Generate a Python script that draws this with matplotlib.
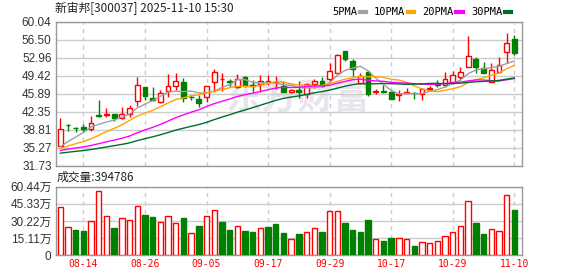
"""K-line chart of 新宙邦 (300037) with moving averages and volume."""

import matplotlib

matplotlib.use("Agg")
import matplotlib.pyplot as plt
from matplotlib.lines import Line2D
import numpy as np
import pandas as pd

stock_name = "新宙邦"
stock_code = "300037"
quote_time = "2025-11-10 15:30"

dates = [
    "08-11", "08-12", "08-13", "08-14", "08-15", "08-18", "08-19", "08-20", "08-21", "08-22",
    "08-25", "08-26", "08-27", "08-28", "08-29", "09-01", "09-02", "09-03", "09-04", "09-05",
    "09-08", "09-09", "09-10", "09-11", "09-12", "09-15", "09-16", "09-17", "09-18", "09-19",
    "09-22", "09-23", "09-24", "09-25", "09-26", "09-29", "09-30", "10-09", "10-10", "10-13",
    "10-14", "10-15", "10-16", "10-17", "10-20", "10-21", "10-22", "10-23", "10-24", "10-27",
    "10-28", "10-29", "10-30", "10-31", "11-03", "11-04", "11-05", "11-06", "11-07", "11-10",
]
opens = [
    35.67, 39.75, 39.22, 39.34, 39.01, 41.70, 41.75, 41.83, 41.11, 41.90,
    44.52, 47.20, 45.04, 44.32, 46.35, 47.46, 48.18, 45.30, 44.85, 45.17,
    48.12, 48.70, 48.38, 47.27, 49.17, 47.60, 47.73, 48.20, 48.10, 47.40,
    46.15, 46.68, 45.83, 47.73, 48.32, 48.84, 50.02, 54.28, 52.31, 48.05,
    50.22, 46.30, 46.40, 46.22, 45.70, 46.10, 46.00, 45.83, 46.80, 47.70,
    47.60, 48.25, 49.23, 51.20, 52.70, 50.87, 48.25, 50.08, 54.15, 56.63,
]
highs = [
    41.04, 39.93, 39.34, 39.93, 41.44, 44.65, 43.00, 41.90, 43.27, 43.66,
    49.23, 47.30, 47.27, 46.61, 49.82, 49.89, 48.90, 45.63, 45.60, 47.40,
    50.74, 49.89, 48.71, 49.76, 49.40, 48.58, 49.50, 49.56, 49.36, 48.38,
    46.80, 48.38, 48.05, 48.71, 49.23, 51.85, 53.69, 54.30, 52.64, 49.89,
    50.30, 46.81, 47.53, 46.40, 46.61, 47.07, 46.15, 46.94, 47.40, 48.58,
    50.22, 50.35, 51.13, 57.22, 53.10, 52.05, 51.85, 53.03, 57.88, 57.49,
]
lows = [
    35.60, 38.56, 38.29, 38.43, 38.56, 41.37, 41.24, 40.50, 41.00, 41.37,
    43.47, 44.65, 44.52, 43.99, 45.30, 46.61, 44.32, 44.65, 43.20, 44.32,
    46.28, 46.42, 47.46, 46.94, 47.25, 46.28, 46.28, 47.53, 46.74, 46.20,
    45.96, 44.97, 45.10, 46.94, 47.27, 48.25, 49.89, 52.38, 49.36, 47.79,
    45.43, 45.83, 46.09, 44.78, 44.52, 45.96, 44.91, 44.65, 46.42, 47.14,
    47.27, 47.79, 48.58, 51.10, 49.89, 49.89, 48.20, 50.00, 51.85, 53.56,
]
closes = [
    38.88, 39.67, 39.15, 38.95, 40.06, 41.57, 41.85, 41.11, 41.83, 43.14,
    47.53, 45.50, 44.65, 46.02, 47.33, 48.38, 45.10, 45.20, 44.12, 47.33,
    50.08, 48.80, 48.12, 48.84, 47.46, 47.40, 48.32, 48.30, 48.20, 46.28,
    46.61, 46.28, 47.73, 48.45, 47.46, 50.28, 53.49, 52.64, 50.67, 49.30,
    45.83, 46.40, 46.30, 44.91, 45.85, 46.20, 45.95, 46.74, 46.95, 47.60,
    48.71, 49.50, 50.08, 53.23, 51.20, 50.02, 50.48, 51.46, 55.78, 53.82,
]
# volume in lots (手)
volumes = [
    422500, 246000, 223000, 214000, 299000, 563000, 343000, 241000, 326000, 308000,
    431000, 355000, 337000, 290000, 343000, 282000, 329000, 194000, 258000, 343000,
    396000, 293000, 223000, 255000, 217000, 205000, 238000, 249000, 276000, 197000,
    144000, 188000, 205000, 238000, 205000, 390000, 390000, 285000, 223000, 205000,
    311000, 144000, 126000, 153000, 153000, 144000, 82000, 114000, 106000, 126000,
    170000, 205000, 255000, 478000, 285000, 188000, 232000, 214000, 531000, 394786,
]

ma_periods = [5, 10, 20, 30]
# MA values before a full window exists in this range
ma_head = {
    5: [35.46, 36.47, 37.38, 38.25],
    10: [35.10, 35.60, 36.05, 36.48, 37.02, 37.71, 38.43, 39.07, 39.78],
    20: [34.72, 34.98, 35.21, 35.43, 35.71, 36.06, 36.43, 36.76, 37.13, 37.56,
         38.21, 38.76, 39.27, 39.85, 40.49, 41.18, 41.71, 42.25, 42.73],
    30: [34.19, 34.38, 34.55, 34.71, 34.91, 35.16, 35.42, 35.66, 35.92, 36.22,
         36.67, 37.05, 37.41, 37.81, 38.25, 38.73, 39.10, 39.47, 39.81, 40.25,
         40.79, 41.28, 41.75, 42.24, 42.69, 43.14, 43.62, 44.10, 44.57],
}
ma_colors = ["#a0a0a0", "#ffa500", "#ff00ff", "#006b2d"]

price_ticks = [31.73, 35.27, 38.81, 42.35, 45.89, 49.42, 52.96, 56.50, 60.04]
volume_ticks = [0, 15.11, 30.22, 45.33, 60.44]  # 万手
date_tick_idx = [3, 11, 19, 27, 35, 43, 51, 59]

UP = "#ff0000"
DOWN = "#008000"
GRID = "#cccccc"
FRAME = "#999999"

plt.rcParams["font.family"] = ["Liberation Sans", "Noto Sans CJK SC"]


def style_panel(ax):
    ax.set_xlim(-0.6, len(closes) + 0.04)
    for spine in ax.spines.values():
        spine.set_color(FRAME)
        spine.set_linewidth(1)
    ax.tick_params(length=0, labelsize=8.5, labelcolor="#333333", pad=3)
    ax.yaxis.grid(True, color=GRID, linewidth=1)
    for i in date_tick_idx:
        ax.axvline(i, color=GRID, linewidth=1, linestyle=(0, (3, 3)), zorder=0)
    ax.set_axisbelow(True)


fig = plt.figure(figsize=(5.78, 2.76), dpi=100)
W, H = 578, 276
ax = fig.add_axes([55.7 / W, 1 - 165.7 / H, 466.6 / W, 144.0 / H])
axv = fig.add_axes([55.7 / W, 1 - 255.3 / H, 466.6 / W, 68.6 / H])

x = np.arange(len(closes))
o = np.array(opens)
hi = np.array(highs)
lo = np.array(lows)
c = np.array(closes)
up = c >= o
edge = np.where(up, UP, DOWN)
face = np.where(up, "white", DOWN)

ax.vlines(x, lo, hi, colors=edge, linewidth=1, zorder=2)
body = np.maximum(np.abs(c - o), 0.06)
ax.bar(x, body, bottom=np.minimum(o, c), width=0.62, color=face,
       edgecolor=edge, linewidth=1, zorder=3)

handles = []
for period, color in zip(ma_periods, ma_colors):
    ma = pd.Series(closes).rolling(period).mean()
    ma.iloc[:period - 1] = ma_head[period]
    ax.plot(x, ma, color=color, linewidth=1, zorder=4)
    handles.append(Line2D([], [], color=color, linewidth=3))

ax.text(0.52, 0.47, "东方财富", transform=ax.transAxes, ha="center", va="center",
        fontsize=26, fontweight="bold", color="#e6e6ec", family="Noto Sans CJK SC", zorder=0.5)

style_panel(ax)
ax.set_ylim(price_ticks[0], price_ticks[-1])
ax.set_yticks(price_ticks, [f"{t:.2f}" for t in price_ticks])
ax.set_xticks([])

ax.legend(handles, [f"{p}PMA" for p in ma_periods], ncol=4, markerfirst=False,
          frameon=False, loc="lower right", bbox_to_anchor=(0.976, 1.03),
          borderaxespad=0, borderpad=0, handlelength=0.6, handletextpad=0.25,
          columnspacing=0.8, prop={"family": "DejaVu Sans Mono", "size": 7.5})

# volume colour follows the change against the previous close
prev = np.concatenate([[o[0]], c[:-1]])
vol_up = c >= prev
vol = np.array(volumes) / 1e4
axv.bar(x, vol, width=0.7, color=np.where(vol_up, "white", DOWN),
        edgecolor=np.where(vol_up, UP, DOWN), linewidth=1, zorder=3)
style_panel(axv)
axv.set_ylim(volume_ticks[0], volume_ticks[-1])
axv.set_yticks(volume_ticks, ["0" if t == 0 else f"{t:.2f}万" for t in volume_ticks])
axv.set_xticks(date_tick_idx, [dates[i] for i in date_tick_idx])
for lab in axv.get_xticklabels():
    lab.set_color(UP)
    lab.set_family("DejaVu Sans Mono")
    lab.set_fontsize(7)

fig.text(55 / W, 1 - 8.5 / H, f"{stock_name}[{stock_code}] {quote_time}",
         ha="left", va="center", fontsize=8.5, color="#222222", family="Noto Sans CJK SC")
fig.text(57 / W, 1 - 177.5 / H, f"成交量:{volumes[-1]}",
         ha="left", va="center", fontsize=8.5, color="#222222", family="Noto Sans CJK SC")

fig.savefig("out.png", dpi=100)
plt.close(fig)
